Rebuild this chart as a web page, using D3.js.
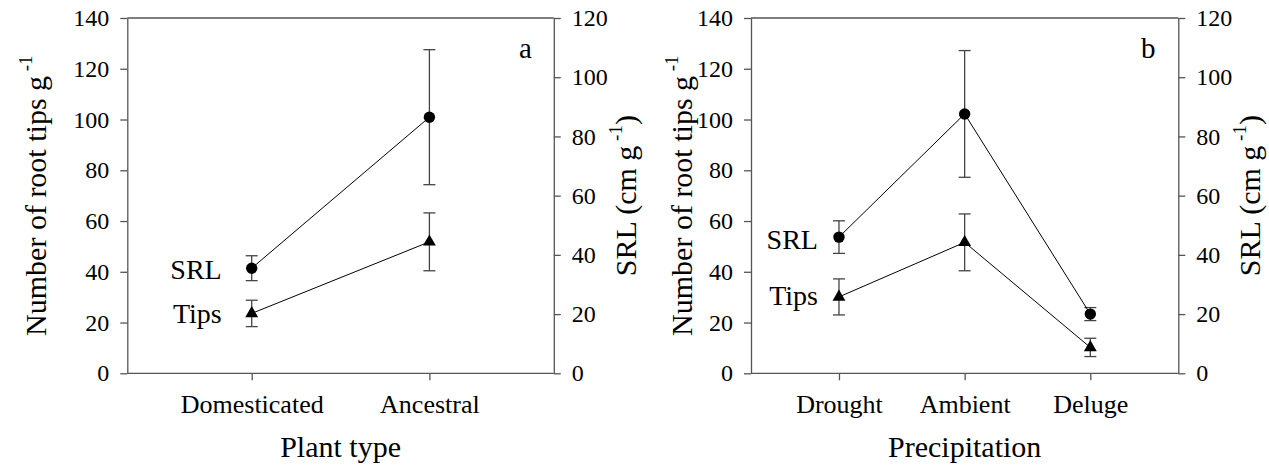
<!DOCTYPE html>
<html>
<head>
<meta charset="utf-8">
<script src="https://cdn.jsdelivr.net/npm/d3@7"></script>
<style>
  body { margin: 0; background: #fff; }
  svg { display: block; }
  svg text { font-family: "Liberation Serif", "Tinos", "Times New Roman", "DejaVu Serif", serif !important; fill: #000; }
</style>
</head>
<body>
<svg id="chart" width="1269" height="469" font-family="Liberation Serif, Times New Roman, serif"></svg>
<script>
// ---- Data -------------------------------------------------------------
// Panel a: plant type
const plantTypes = ["Domesticated", "Ancestral"];
const srlByPlant = [35.5, 86.5];          // SRL, cm g-1 (right axis)
const srlByPlantErr = [4.2, 22.8];
const tipsByPlant = [23.6, 51.8];         // root tips g-1 (left axis)
const tipsByPlantErr = [5.2, 11.4];

// Panel b: precipitation treatment
const precipitation = ["Drought", "Ambient", "Deluge"];
const srlByPrecip = [46.0, 87.6, 20.0];
const srlByPrecipErr = [5.5, 21.4, 2.2];
const tipsByPrecip = [30.1, 51.6, 10.2];
const tipsByPrecipErr = [7.1, 11.2, 3.6];

const tipsTicks = [0, 20, 40, 60, 80, 100, 120, 140];
const srlTicks = [0, 20, 40, 60, 80, 100, 120];

// ---- Layout -----------------------------------------------------------
const svg = d3.select("#chart");
const plotTop = 18, plotBottom = 373.3;
const axisColor = "#555";
const errColor = "#444";
const serif = '"Liberation Serif", "Tinos", "Times New Roman", "DejaVu Serif", serif';

function drawPanel(cfg) {
  const g = svg.append("g");
  const x = d3.scalePoint().domain(cfg.cats).range([cfg.x0, cfg.x1]).padding(0.7);
  const yTips = d3.scaleLinear().domain([0, 140]).range([plotBottom, plotTop]);
  const ySrl = d3.scaleLinear().domain([0, 120]).range([plotBottom, plotTop]);

  // frame top
  g.append("line").attr("x1", cfg.x0).attr("x2", cfg.x1).attr("y1", plotTop).attr("y2", plotTop)
    .attr("stroke", axisColor).attr("stroke-width", 1.3);

  const styleAxis = sel => {
    sel.attr("font-family", null);
    sel.selectAll(".domain").attr("stroke", axisColor).attr("stroke-width", 1.3);
    sel.selectAll(".tick line").attr("stroke", axisColor).attr("stroke-width", 1.3);
    sel.selectAll(".tick text").style("font-family", serif).attr("fill", "#000");
  };

  // left axis: root tips
  g.append("g").attr("transform", `translate(${cfg.x0},0)`)
    .call(d3.axisLeft(yTips).tickValues(tipsTicks).tickSize(7).tickSizeOuter(0).tickPadding(11))
    .call(styleAxis)
    .selectAll(".tick text").style("font-size", "24px");

  // right axis: SRL
  g.append("g").attr("transform", `translate(${cfg.x1},0)`)
    .call(d3.axisRight(ySrl).tickValues(srlTicks).tickSize(7).tickSizeOuter(0).tickPadding(11))
    .call(styleAxis)
    .selectAll(".tick text").style("font-size", "24px");

  // bottom axis: categories
  const xa = g.append("g").attr("transform", `translate(0,${plotBottom})`)
    .call(d3.axisBottom(x).tickSize(7).tickSizeOuter(0).tickPadding(14))
    .call(styleAxis);
  xa.select(".domain").attr("d", `M${cfg.x0},0H${cfg.x1}`);
  xa.selectAll(".tick text").style("font-size", "26px").attr("dy", "0.71em");

  // series
  const series = [
    { vals: cfg.srl, errs: cfg.srlErr, y: ySrl, shape: "circle", label: "SRL" },
    { vals: cfg.tips, errs: cfg.tipsErr, y: yTips, shape: "triangle", label: "Tips" }
  ];
  const line = d3.line();
  series.forEach(s => {
    const pts = cfg.cats.map((c, i) => [x(c), s.y(s.vals[i])]);
    // error bars
    cfg.cats.forEach((c, i) => {
      const cx = x(c), hi = s.y(s.vals[i] + s.errs[i]), lo = s.y(s.vals[i] - s.errs[i]);
      const eg = g.append("g").attr("stroke", errColor).attr("stroke-width", 1.3);
      eg.append("line").attr("x1", cx).attr("x2", cx).attr("y1", hi).attr("y2", lo);
      eg.append("line").attr("x1", cx - 6).attr("x2", cx + 6).attr("y1", hi).attr("y2", hi);
      eg.append("line").attr("x1", cx - 6).attr("x2", cx + 6).attr("y1", lo).attr("y2", lo);
    });
    g.append("path").attr("d", line(pts)).attr("fill", "none").attr("stroke", "#000").attr("stroke-width", 1);
    pts.forEach(p => {
      if (s.shape === "circle") {
        g.append("circle").attr("cx", p[0]).attr("cy", p[1]).attr("r", 5.7).attr("fill", "#000");
      } else {
        g.append("path").attr("d", d3.symbol(d3.symbolTriangle, 72)())
          .attr("transform", `translate(${p[0]},${p[1]})`).attr("fill", "#000");
      }
    });
    // series label beside the first point
    g.append("text").attr("x", pts[0][0] - cfg.labelGap).attr("y", pts[0][1] + cfg.labelDy[s.label])
      .attr("text-anchor", "end").style("font-family", serif).style("font-size", "28px").text(s.label);
  });

  // panel letter
  g.append("text").attr("x", cfg.letterX).attr("y", 58).style("font-family", serif)
    .style("font-size", "29px").text(cfg.letter);

  // x title
  g.append("text").attr("x", (cfg.x0 + cfg.x1) / 2).attr("y", 457).attr("text-anchor", "middle")
    .style("font-family", serif).style("font-size", "30px").text(cfg.xTitle);

  const midY = (plotTop + plotBottom) / 2;
  // left title
  const lt = g.append("text").attr("transform", `translate(${cfg.leftTitleX},${midY}) rotate(-90)`)
    .attr("text-anchor", "middle").style("font-family", serif).style("font-size", "30px");
  lt.append("tspan").text("Number of root tips g");
  lt.append("tspan").attr("dy", -14).style("font-size", "19px").text(" -1");

  // right title
  const rt = g.append("text").attr("transform", `translate(${cfg.x1 + 82},${midY}) rotate(-90)`)
    .attr("text-anchor", "middle").style("font-family", serif).style("font-size", "30px");
  rt.append("tspan").text("SRL (cm g");
  rt.append("tspan").attr("dy", -14).style("font-size", "19px").text(" -1");
  rt.append("tspan").attr("dy", 14).text(")");
}

drawPanel({
  cats: plantTypes, srl: srlByPlant, srlErr: srlByPlantErr, tips: tipsByPlant, tipsErr: tipsByPlantErr,
  x0: 127.3, x1: 553.8, letter: "a", letterX: 519, xTitle: "Plant type", leftTitleX: 46,
  labelGap: 30, labelDy: { SRL: 11, Tips: 9.5 }
});
drawPanel({
  cats: precipitation, srl: srlByPrecip, srlErr: srlByPrecipErr, tips: tipsByPrecip, tipsErr: tipsByPrecipErr,
  x0: 751, x1: 1178.3, letter: "b", letterX: 1141, xTitle: "Precipitation", leftTitleX: 692,
  labelGap: 21, labelDy: { SRL: 11.5, Tips: 8.5 }
});
</script>
</body>
</html>
